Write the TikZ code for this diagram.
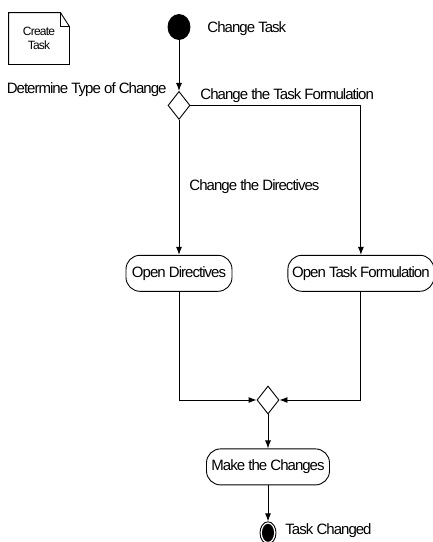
\documentclass[tikz,border=0pt]{standalone}
\usepackage{fontspec}
\setmainfont{Liberation Sans}[LetterSpace=-6.5]
\usetikzlibrary{shapes.geometric, arrows.meta, positioning}

\begin{document}
\begin{tikzpicture}[
  x=1pt, y=1pt,
  node distance=40pt,
  lbl/.style={inner sep=0pt, font=\fontsize{15}{17}\selectfont},
  activity/.style={rectangle, draw, rounded corners=14pt, minimum height=36pt, inner sep=2pt, font=\fontsize{15}{17}\selectfont},
  choice/.style={diamond, draw, minimum width=22pt, minimum height=28pt, inner sep=0pt},
  startnode/.style={ellipse, fill=black, draw, minimum width=22pt, minimum height=25pt, inner sep=0pt},
  stopnode/.style={ellipse, draw, minimum width=16pt, minimum height=22pt, inner sep=0pt,
    path picture={\fill (path picture bounding box.center) ellipse (6pt and 9pt);}},
  note/.style={minimum width=60pt, minimum height=51pt, align=center, inner sep=0pt, font=\fontsize{12}{14}\selectfont},
  >={Latex[length=8pt, width=6pt]},
  line width=0.9pt,
]
  \useasboundingbox (0,0) rectangle (433,-542);

  % note
  \node[note] (create) at (39,-38.5) {Create\\Task};
  \draw (create.north west) -- ([xshift=-9pt]create.north east) -- ([yshift=-14pt]create.north east)
    -- (create.south east) -- (create.south west) -- cycle;
  \draw ([xshift=-9pt]create.north east) |- ([yshift=-14pt]create.north east);

  % activity nodes
  \node[startnode] (start) at (179,-27) {};
  \node[lbl, anchor=west] (starttxt) at (207,-29) {Change Task};
  \node[choice, below=51pt of start] (choose) {};
  \node[lbl, anchor=east] (choosetxt) at (167,-90) {Determine Type of Change};
  \node[lbl, anchor=west] (tasktxt) at (200,-96) {Change the Task Formulation};
  \node[lbl, anchor=west] (dirtxt) at (189,-187) {Change the Directives};
  \node[activity, minimum width=106pt, below=135pt of choose] (opendir) {Open Directives};
  \node[activity, minimum width=146pt, right=55pt of opendir] (opentask) {Open Task Formulation};
  \node[choice] (join) at (268,-400) {};
  \node[activity, minimum width=123pt, below=34pt of join] (make) {Make the Changes};
  \node[stopnode, below=36pt of make] (stop) {};
  \node[lbl, anchor=west] (stoptxt) at (285,-531) {Task Changed};

  \draw[->] (start) -- (choose);
  \draw[->] (choose.east) -| (opentask);
  \draw[->] (choose) -- (opendir);
  \draw[->] (opendir) |- (join);
  \draw[->] (opentask) |- (join);
  \draw[->] (join) -- (make);
  \draw[->] (make) -- (stop);
\end{tikzpicture}
\end{document}
